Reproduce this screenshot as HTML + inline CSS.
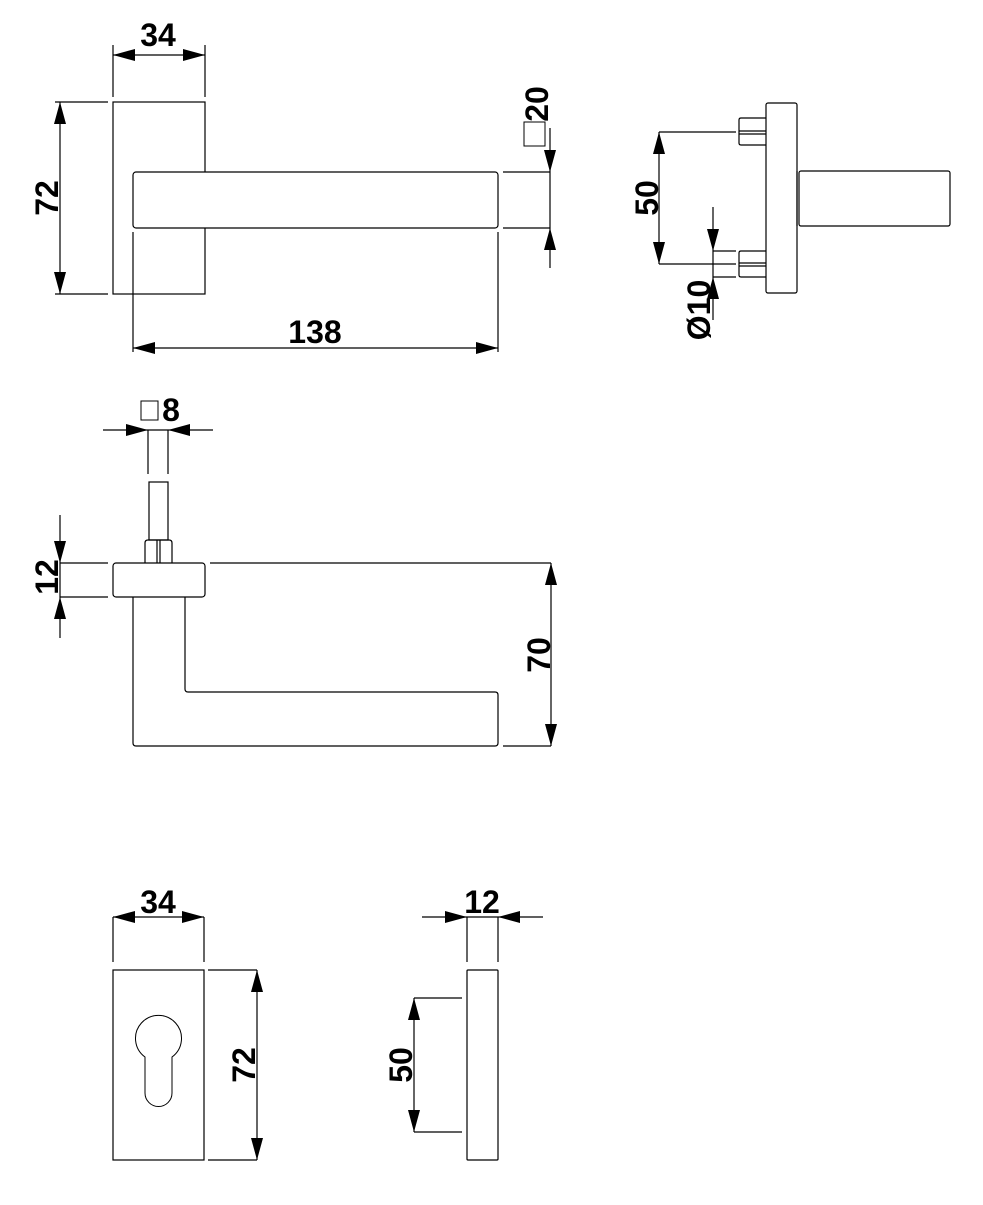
<!DOCTYPE html>
<html><head><style>html,body{margin:0;background:#fff}</style></head><body>
<svg width="983" height="1200" viewBox="0 0 983 1200" xmlns="http://www.w3.org/2000/svg" font-family="Liberation Sans, Arial, sans-serif">
<g fill="none" stroke="#000" stroke-width="1.2">
<rect x="113" y="102" width="92" height="192"/>
<rect x="133" y="172" width="365" height="56" rx="3" fill="#fff"/>
<line x1="113" y1="45" x2="113" y2="97"/><line x1="205" y1="45" x2="205" y2="97"/>
<line x1="113" y1="55" x2="205" y2="55"/>
<line x1="55" y1="102" x2="108" y2="102"/><line x1="55" y1="294" x2="108" y2="294"/>
<line x1="60" y1="102" x2="60" y2="294"/>
<line x1="503" y1="172" x2="550" y2="172"/><line x1="503" y1="228" x2="550" y2="228"/>
<line x1="550" y1="128" x2="550" y2="268"/>
<rect x="524" y="122" width="21" height="24" stroke-width="1"/>
<line x1="133" y1="232" x2="133" y2="352"/><line x1="498" y1="232" x2="498" y2="352"/>
<line x1="133" y1="348" x2="498" y2="348"/>
<rect x="766" y="103" width="31" height="190" rx="2"/>
<rect x="799" y="171" width="151" height="55" rx="2"/>
<line x1="797" y1="171" x2="797" y2="226"/>
<path d="M766 118 H741 Q739 118 739 120 V143 Q739 145 741 145 H766"/>
<line x1="739" y1="131" x2="766" y2="131"/><line x1="739" y1="134" x2="766" y2="134"/>
<path d="M766 251 H741 Q739 251 739 253 V275 Q739 277 741 277 H766"/>
<line x1="739" y1="263" x2="766" y2="263"/><line x1="739" y1="266" x2="766" y2="266"/>
<line x1="659" y1="132" x2="736" y2="132"/><line x1="659" y1="264" x2="736" y2="264"/>
<line x1="659" y1="132" x2="659" y2="264"/>
<line x1="713" y1="251" x2="736" y2="251"/><line x1="713" y1="277" x2="736" y2="277"/>
<line x1="713" y1="207" x2="713" y2="320"/>
<line x1="148" y1="430" x2="148" y2="474"/><line x1="168" y1="430" x2="168" y2="474"/>
<rect x="149" y="482" width="19" height="58"/>
<path d="M145 563 V543 Q145 540 148 540 H169 Q172 540 172 543 V563"/>
<line x1="157" y1="540" x2="157" y2="563"/><line x1="160" y1="540" x2="160" y2="563"/>
<rect x="113" y="563" width="92" height="34" rx="3"/>
<path d="M133 597 V743 Q133 746 136 746 H495 Q498 746 498 743 V695 Q498 692 495 692 H188 Q185 692 185 689 V597"/>
<line x1="103" y1="430" x2="213" y2="430"/>
<line x1="60" y1="515" x2="60" y2="638"/>
<line x1="60" y1="563" x2="108" y2="563"/><line x1="60" y1="597" x2="108" y2="597"/>
<line x1="210" y1="563" x2="551" y2="563"/><line x1="503" y1="746" x2="551" y2="746"/>
<line x1="551" y1="563" x2="551" y2="746"/>
<rect x="113" y="970" width="91" height="190"/>
<path d="M145 1057 A23 23 0 1 1 172 1057 V1093 A13.5 13.5 0 0 1 145 1093 Z" stroke-width="1"/>
<line x1="113" y1="917" x2="113" y2="962"/><line x1="204" y1="917" x2="204" y2="962"/>
<line x1="113" y1="917" x2="204" y2="917"/>
<line x1="208" y1="970" x2="257" y2="970"/><line x1="208" y1="1160" x2="257" y2="1160"/>
<line x1="257" y1="970" x2="257" y2="1160"/>
<rect x="467" y="970" width="31" height="190" rx="1"/>
<line x1="467" y1="917" x2="467" y2="962"/><line x1="498" y1="917" x2="498" y2="962"/>
<line x1="422" y1="917" x2="543" y2="917"/>
<line x1="414" y1="998" x2="462" y2="998"/><line x1="414" y1="1132" x2="462" y2="1132"/>
<line x1="414" y1="998" x2="414" y2="1132"/>
<rect x="141" y="401" width="17" height="19" stroke-width="1"/>
</g>
<g fill="#000">
<polygon points="113,55 135,49 135,61"/><polygon points="205,55 183,49 183,61"/>
<polygon points="60,102 54,124 66,124"/><polygon points="60,294 54,272 66,272"/>
<polygon points="550,172 544,150 556,150"/><polygon points="550,228 544,250 556,250"/>
<polygon points="133,348 155,342 155,354"/><polygon points="498,348 476,342 476,354"/>
<polygon points="659,132 653,154 665,154"/><polygon points="659,264 653,242 665,242"/>
<polygon points="713,251 707,229 719,229"/><polygon points="713,277 707,299 719,299"/>
<polygon points="148,430 126,424 126,436"/><polygon points="168,430 190,424 190,436"/>
<polygon points="60,563 54,541 66,541"/><polygon points="60,597 54,619 66,619"/>
<polygon points="551,563 545,585 557,585"/><polygon points="551,746 545,724 557,724"/>
<polygon points="113,917 135,911 135,923"/><polygon points="204,917 182,911 182,923"/>
<polygon points="257,970 251,992 263,992"/><polygon points="257,1160 251,1138 263,1138"/>
<polygon points="467,917 445,911 445,923"/><polygon points="498,917 520,911 520,923"/>
<polygon points="414,998 408,1020 420,1020"/><polygon points="414,1132 408,1110 420,1110"/>
</g>
<g fill="#000" font-size="32" font-weight="bold">
<text x="158" y="46" text-anchor="middle">34</text>
<text transform="translate(58,198) rotate(-90)" text-anchor="middle">72</text>
<text transform="translate(548,104) rotate(-90)" text-anchor="middle">20</text>
<text x="315" y="343" text-anchor="middle">138</text>
<text transform="translate(658,198) rotate(-90)" text-anchor="middle">50</text>
<text transform="translate(710,310) rotate(-90)" text-anchor="middle">Ø10</text>
<text x="171" y="421" text-anchor="middle">8</text>
<text transform="translate(58,577) rotate(-90)" text-anchor="middle">12</text>
<text transform="translate(550,655) rotate(-90)" text-anchor="middle">70</text>
<text x="158" y="913" text-anchor="middle">34</text>
<text transform="translate(255,1065) rotate(-90)" text-anchor="middle">72</text>
<text x="482" y="913" text-anchor="middle">12</text>
<text transform="translate(412,1065) rotate(-90)" text-anchor="middle">50</text>
</g>
</svg>
</body></html>
